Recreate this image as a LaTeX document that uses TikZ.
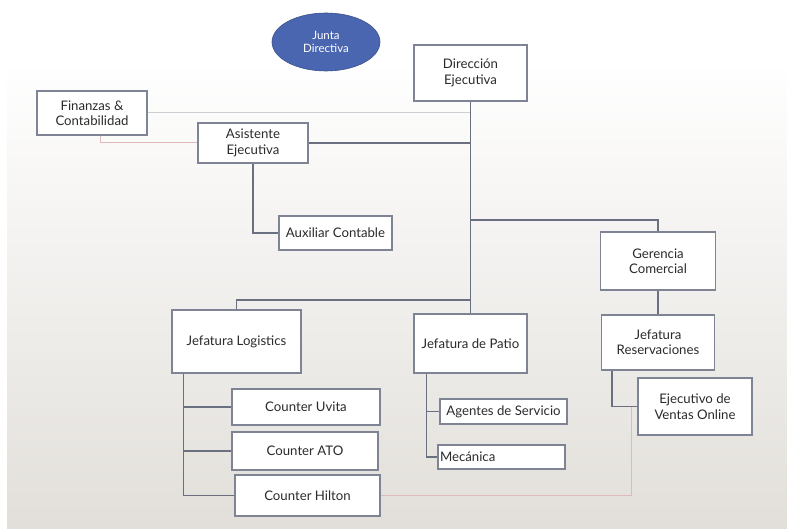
\documentclass[tikz,border=0pt]{standalone}
\usepackage{fontspec}
\setmainfont{Lato}
\usetikzlibrary{calc,shapes.geometric}
\definecolor{linegrey}{HTML}{6B7080}
\definecolor{boxgrey}{HTML}{7E8494}
\definecolor{faintgrey}{HTML}{CFCFD2}
\definecolor{faintpink}{HTML}{E2B9BB}
\definecolor{juntablue}{HTML}{4B66B0}
\definecolor{textdark}{HTML}{2B2B2B}
\definecolor{floor}{HTML}{E2DFDA}
\tikzset{
  orgbox/.style={draw=boxgrey, line width=1.3pt, fill=white, inner sep=1pt,
    align=center, text=textdark, font=\fontsize{13.2}{15.5}\selectfont},
  link/.style={draw=linegrey, line width=1.5pt},
  faint/.style={draw=faintgrey, line width=1pt},
  faintred/.style={draw=faintpink, line width=1pt},
}
\begin{document}
\begin{tikzpicture}[x=1pt,y=-1pt]
  \useasboundingbox (0,0) rectangle (787,529);
  % slide background: white top fading to a warm grey floor
  \fill[white] (0,0) rectangle (787,529);
  \shade[top color=white, bottom color=floor] (7,60) rectangle (787,529);

  % board
  \node[ellipse, fill=juntablue, draw=juntablue!80!black, line width=0.6pt,
        minimum width=108pt, minimum height=58pt, text=white, align=center,
        font=\fontsize{11.5}{13.5}\selectfont] (junta) at (326,42) {Junta\\Directiva};

  % units
  \node[orgbox, minimum width=113pt, minimum height=56pt] (dir) at (470.5,73) {Dirección\\Ejecutiva};
  \node[orgbox, minimum width=110pt, minimum height=44pt] (fin) at (92,113) {Finanzas \&\\Contabilidad};
  \node[orgbox, minimum width=110pt, minimum height=40pt] (asi) at (253,143) {Asistente\\Ejecutiva};
  \node[orgbox, minimum width=113pt, minimum height=34pt] (aux) at (335.5,233) {Auxiliar Contable};
  \node[orgbox, minimum width=115pt, minimum height=58pt] (ger) at (658,261) {Gerencia\\Comercial};
  \node[orgbox, minimum width=113pt, minimum height=55pt] (res) at (658,342.5) {Jefatura\\Reservaciones};
  \node[orgbox, minimum width=114pt, minimum height=57pt] (eje) at (695,406.5) {Ejecutivo de\\Ventas Online};
  \node[orgbox, minimum width=113pt, minimum height=59pt] (pat) at (470.5,343.5) {Jefatura de Patio};
  \node[orgbox, minimum width=129pt, minimum height=63pt] (log) at (236.5,341.5) {Jefatura Logistics};
  \node[orgbox, minimum width=148pt, minimum height=36pt] (uvi) at (306,407) {Counter Uvita};
  \node[orgbox, minimum width=146pt, minimum height=38pt] (ato) at (305,451) {Counter ATO};
  \node[orgbox, minimum width=145pt, minimum height=41pt] (hil) at (307.5,495.5) {Counter Hilton};
  \node[orgbox, minimum width=127pt, minimum height=25pt] (age) at (503.5,411.5) {Agentes de Servicio};
  \node[orgbox, minimum width=127pt, minimum height=24pt, text width=123pt, align=left] (mec) at (501.5,457) {Mecánica};

  % branch points
  \coordinate (jg) at (dir.south |- 0,220);
  \coordinate (jl) at (dir.south |- 0,300);
  \coordinate (fd) at ($(fin.south)+(8,0)$);
  \coordinate (rd) at ($(res.south west)+(11,0)$);
  \coordinate (ld) at ($(log.south west)+(12,0)$);
  \coordinate (pd) at ($(pat.south west)+(13,0)$);
  \coordinate (hk) at (631,407);

  % faint secondary links
  \draw[faint] (fin.east) -- (fin.east -| dir.south);
  \draw[faintred] (fd) |- (asi.west);
  \draw[faintred] (hil.east) -| (hk);

  % reporting lines
  \draw[link] (dir.south) -- (pat.north);
  \draw[link] (asi.east) -- (asi.east -| dir.south);
  \draw[link] (asi.south) |- (aux.west);
  \draw[link] (jg) -| (ger.north);
  \draw[link] (ger.south) -- (res.north);
  \draw[link] (rd) |- (eje.west);
  \draw[link] (jl) -| (log.north);
  \draw[link] (ld) |- (hil.west);
  \draw[link] (ld |- uvi.west) -- (uvi.west);
  \draw[link] (ld |- ato.west) -- (ato.west);
  \draw[link] (pd) |- (mec.west);
  \draw[link] (pd |- age.west) -- (age.west);
\end{tikzpicture}
\end{document}
